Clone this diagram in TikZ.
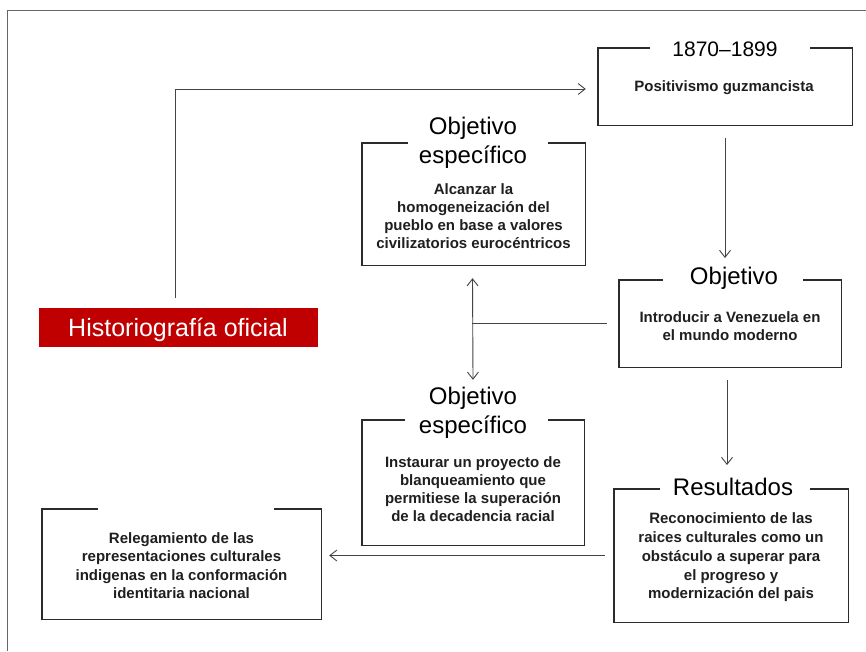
\documentclass[tikz,border=0pt]{standalone}
\usepackage{fontspec}
\setmainfont{Liberation Sans}
\usetikzlibrary{arrows.meta}
\definecolor{histred}{HTML}{C00000}
\definecolor{edge}{HTML}{2B2B2B}
\definecolor{wire}{HTML}{444444}
\definecolor{framegray}{HTML}{666666}
% box outline whose top edge is left open between two stubs
\newcommand\gapoutline[3]{%
  \draw[outline] ([xshift=#2]#1.north west) -- (#1.north west) -- (#1.south west)
    -- (#1.south east) -- (#1.north east) -- ([xshift=-#3]#1.north east);}
\begin{document}
\begin{tikzpicture}[x=1pt,y=-1pt,
  panel/.style={draw=none,inner sep=0pt,rectangle},
  outline/.style={draw=edge,line width=1.4pt},
  heading/.style={inner sep=0pt,font=\fontsize{24}{29}\selectfont,text=black,align=center},
  body/.style={inner sep=0pt,font=\fontsize{15}{18}\selectfont\bfseries,text=black!88,align=center},
  arr/.style={draw=wire,line width=0.9pt,-{Straight Barb[length=7pt,width=11pt]}},
  twoway/.style={draw=wire,line width=0.9pt,{Straight Barb[length=7pt,width=11pt]}-{Straight Barb[length=7pt,width=11pt]}},
  link/.style={draw=wire,line width=0.9pt}]
\useasboundingbox (0,0) rectangle (866,651);
\fill[white] (0,0) rectangle (866,651);
% outer frame: top and left edges
\draw[framegray,line width=1pt] (866,10) -- (7,10) -- (7,651);

% red source box
\node[panel,fill=histred,minimum width=279pt,minimum height=39pt] (hist) at (178.5,327.5) {};
\node[inner sep=0pt,text=white,font=\fontsize{25}{30}\selectfont] (histlabel) at (178,329.5) {Historiografía oficial};

% 1870-1899
\node[panel,minimum width=254pt,minimum height=77pt] (b1) at (725,86.5) {};
\gapoutline{b1}{52pt}{42pt}
\node[heading,font=\fontsize{21}{25}\selectfont] (t1) at (725,49) {1870–1899};
\node[body] (c1) at (724,88) {Positivismo guzmancista};

% upper specific objective
\node[panel,minimum width=223pt,minimum height=122pt] (b2) at (473.5,204) {};
\gapoutline{b2}{46pt}{37pt}
\node[heading] (t2) at (473,142.5) {Objetivo\\específico};
\node[body] (c2) at (473.5,216.5) {Alcanzar la\\homogeneización del\\pueblo en base a valores\\civilizatorios eurocéntricos};

% objective
\node[panel,minimum width=222pt,minimum height=87pt] (b3) at (730,323.5) {};
\gapoutline{b3}{44pt}{38pt}
\node[heading] (t3) at (734,278) {Objetivo};
\node[body] (c3) at (730,326) {Introducir a Venezuela en\\el mundo moderno};

% lower specific objective
\node[panel,minimum width=222pt,minimum height=125pt] (b4) at (473,482.5) {};
\gapoutline{b4}{43pt}{36pt}
\node[heading] (t4) at (473,412.5) {Objetivo\\específico};
\node[body] (c4) at (473,489) {Instaurar un proyecto de\\blanqueamiento que\\permitiese la superación\\de la decadencia racial};

% results
\node[panel,minimum width=234pt,minimum height=133pt] (b5) at (731,555.5) {};
\gapoutline{b5}{46pt}{38pt}
\node[heading] (t5) at (733,487) {Resultados};
\node[body,font=\fontsize{15}{18.8}\selectfont\bfseries] (c5) at (731,557.5) {Reconocimiento de las\\raices culturales como un\\obstáculo a superar para\\el progreso y\\modernización del pais};

% outcome
\node[panel,minimum width=279pt,minimum height=110pt] (b6) at (181.5,564) {};
\gapoutline{b6}{56pt}{47pt}
\node[body,font=\fontsize{15}{18.4}\selectfont\bfseries] (c6) at (181.5,565.5) {Relegamiento de las\\representaciones culturales\\indigenas en la conformación\\identitaria nacional};

% connectors
\coordinate (rise) at (175,298);
\draw[arr] (rise) |- ([xshift=-12pt,yshift=-2.5pt]b1.west);
\draw[arr] ([yshift=-13pt]b1.south) -- (b1.south |- 0,258);
\draw[twoway] ([xshift=-1pt,yshift=-13pt]b2.south) -- ([yshift=40pt]b4.north);
\coordinate (mid) at (472,324);
\draw[link] ([xshift=-12pt]b3.west) -- (mid |- b3.west);
\draw[arr] ([xshift=-3pt,yshift=-13pt]b3.south) -- ([xshift=-3pt]b3.south |- 0,465);
\draw[arr] ([xshift=-9pt]b5.west) -- ([xshift=8pt]b6.east |- b5.west);
\end{tikzpicture}
\end{document}
